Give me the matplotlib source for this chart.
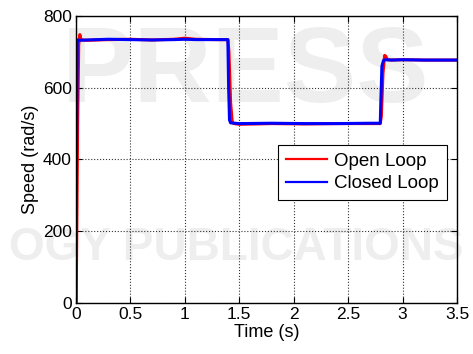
import matplotlib
matplotlib.use("Agg")
import matplotlib.pyplot as plt

# speed response data
t_open = [0.0, 0.005, 0.015, 0.025, 0.035, 0.045, 0.06, 0.1, 0.3, 0.5, 0.7, 0.9,
          1.0, 1.1, 1.3, 1.395, 1.405, 1.42, 1.435, 1.45, 1.5, 1.8, 2.1, 2.4, 2.7,
          2.795, 2.805, 2.82, 2.835, 2.845, 2.86, 2.9, 3.0, 3.2, 3.5]
speed_open = [0, 120, 500, 720, 748, 735, 733, 732, 734, 735, 733, 735,
              738, 735, 734, 734, 700, 560, 505, 500, 498, 500, 499, 500, 500,
              500, 520, 640, 690, 688, 678, 677, 678, 677, 677]

t_closed = [0.0, 0.004, 0.012, 0.03, 0.1, 0.3, 0.5, 0.7, 0.9, 1.0, 1.1, 1.3,
            1.395, 1.402, 1.41, 1.42, 1.5, 1.8, 2.1, 2.4, 2.7, 2.795, 2.8,
            2.81, 2.825, 2.84, 2.9, 3.0, 3.2, 3.5]
speed_closed = [0, 400, 733, 732, 733, 735, 734, 733, 734, 735, 734, 734,
                734, 600, 510, 502, 500, 501, 500, 500, 501, 501, 560,
                660, 676, 678, 677, 678, 677, 677]

x_ticks = [0, 0.5, 1, 1.5, 2, 2.5, 3, 3.5]
x_labels = ['0', '0.5', '1', '1.5', '2', '2.5', '3', '3.5']
y_ticks = [0, 200, 400, 600, 800]

plt.rcParams['font.family'] = ['Liberation Sans', 'DejaVu Sans']

fig = plt.figure(figsize=(4.73, 3.54), dpi=100)

# faint publisher watermark behind the axes
fig.text(0.52, 0.79, 'PRESS', fontsize=78, fontweight='bold', color='#eeeeee',
         ha='center', va='center', zorder=0)
fig.text(0.5, 0.30, 'OGY PUBLICATIONS', fontsize=33, fontweight='bold',
         color='#eeeeee', ha='center', va='center', zorder=0)

ax = fig.add_axes([0.1607, 0.144, 0.8055, 0.811])
ax.set_zorder(2)
ax.patch.set_alpha(0)

ax.plot(t_open, speed_open, color='#ff0000', lw=2.2, label='Open Loop')
ax.plot(t_closed, speed_closed, color='#0000ff', lw=2.2, label='Closed Loop')

ax.set_xlim(0, 3.5)
ax.set_ylim(0, 800)
ax.set_xticks(x_ticks)
ax.set_xticklabels(x_labels)
ax.set_yticks(y_ticks)
ax.tick_params(direction='in', top=True, right=True, labelsize=12.5, length=4,
               width=0.8, pad=3)
ax.grid(True, linestyle=':', color='#333333', linewidth=0.8)
for s in ax.spines.values():
    s.set_linewidth(1.0)

ax.set_xlabel('Time (s)', fontsize=13, labelpad=1)
ax.set_ylabel('Speed (rad/s)', fontsize=13, labelpad=3)

leg = ax.legend(loc='center right', bbox_to_anchor=(0.973, 0.455), fontsize=13.5,
                fancybox=False, framealpha=1, edgecolor='black',
                handlelength=2.2, borderpad=0.4, labelspacing=0.3,
                handletextpad=0.4, borderaxespad=0)
leg.get_frame().set_linewidth(0.8)
for line in leg.get_lines():
    line.set_linewidth(1.6)

fig.savefig('out.png', dpi=100)
